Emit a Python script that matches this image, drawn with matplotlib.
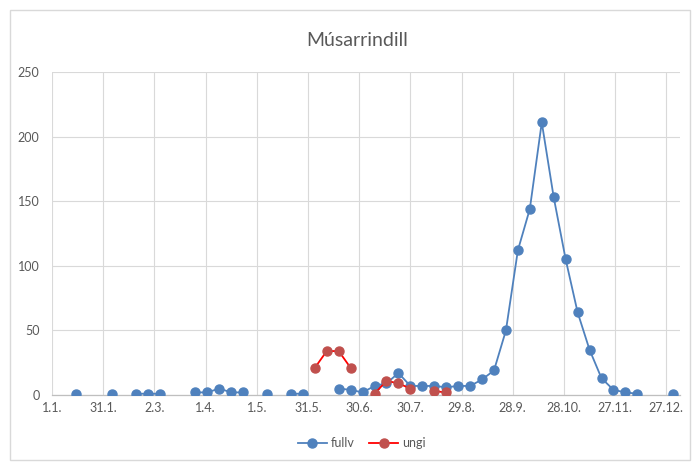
import numpy as np
import pandas as pd
import matplotlib
matplotlib.use("Agg")
import matplotlib.pyplot as plt
import matplotlib.dates as mdates
from matplotlib.patches import Rectangle

# weekly counts (missing weeks leave gaps in the line)
fullv_dates = ["15.1.", "5.2.", "19.2.", "26.2.", "5.3.", "26.3.", "2.4.", "9.4.", "16.4.", "23.4.",
               "7.5.", "21.5.", "28.5.", "18.6.", "25.6.", "2.7.", "9.7.", "16.7.", "23.7.", "30.7.",
               "6.8.", "13.8.", "20.8.", "27.8.", "3.9.", "10.9.", "17.9.", "24.9.", "1.10.", "8.10.",
               "15.10.", "22.10.", "29.10.", "5.11.", "12.11.", "19.11.", "26.11.", "3.12.", "10.12.", "31.12."]
fullv = [1, 1, 1, 1, 1, 2, 2, 5, 2, 2,
         1, 1, 1, 5, 4, 2, 7, 9, 17, 7,
         7, 7, 6, 7, 7, 12, 19, 50, 112, 144,
         211, 153, 105, 64, 35, 13, 4, 2, 1, 1]

ungi_dates = ["4.6.", "11.6.", "18.6.", "25.6.", "9.7.", "16.7.", "23.7.", "30.7.", "13.8.", "20.8."]
ungi = [21, 34, 34, 21, 1, 11, 9, 5, 3, 2]

tick_labels = ["1.1.", "31.1.", "2.3.", "1.4.", "1.5.", "31.5.", "30.6.", "30.7.",
               "29.8.", "28.9.", "28.10.", "27.11.", "27.12."]

YEAR = "2015"


def to_dates(lst):
    return pd.to_datetime([d + YEAR for d in lst], format="%d.%m.%Y")


weeks = pd.date_range("2015-01-15", "2015-12-31", freq="7D")
s_full = pd.Series(fullv, index=to_dates(fullv_dates), dtype=float).reindex(weeks)
s_ungi = pd.Series(ungi, index=to_dates(ungi_dates), dtype=float).reindex(weeks)

plt.rcParams["font.family"] = ["Lato", "DejaVu Sans"]
gray = "#595959"

fig = plt.figure(figsize=(6.97, 4.68), dpi=100)
W, H = 697, 468
ax = fig.add_axes([52 / W, 1 - 395 / H, (680 - 52) / W, (395 - 72) / H])

fig.patches.append(Rectangle((10 / W, 1 - 460 / H), 680 / W, 450 / H, transform=fig.transFigure,
                             fill=False, edgecolor="#D9D9D9", linewidth=1))

ax.plot(s_full.index, s_full.values, color="#4F81BD", linewidth=1.3,
        marker="o", markersize=6.5, markerfacecolor="#4F81BD", markeredgecolor="#4F81BD",
        label="fullv", zorder=3)
ax.plot(s_ungi.index, s_ungi.values, color="#FF0000", linewidth=1.3,
        marker="o", markersize=6.5, markerfacecolor="#C0504D", markeredgecolor="#C0504D",
        label="ungi", zorder=4)

ticks = to_dates(tick_labels)
ax.set_xticks(ticks)
ax.set_xticklabels(tick_labels)
ax.set_xlim(pd.Timestamp("2015-01-01"), pd.Timestamp("2016-01-04"))
ax.set_ylim(0, 250)
ax.set_yticks(np.arange(0, 251, 50))

ax.grid(True, color="#D9D9D9", linewidth=0.8)
ax.set_axisbelow(True)
for side in ["top", "right", "left"]:
    ax.spines[side].set_visible(False)
ax.spines["bottom"].set_color("#BFBFBF")
ax.spines["bottom"].set_linewidth(0.9)
ax.tick_params(axis="both", length=0, colors=gray, labelsize=9)
ax.tick_params(axis="y", pad=9)
ax.tick_params(axis="x", pad=5)

fig.text(0.512, 1 - 40 / H, "Músarrindill", ha="center", va="center", fontsize=14, color=gray)

leg = fig.legend(loc="center", bbox_to_anchor=(0.519, 1 - 443 / H), ncol=2, frameon=False,
                 fontsize=9, handlelength=2.3, handletextpad=0.3, columnspacing=1.2)
for t in leg.get_texts():
    t.set_color(gray)

fig.savefig("out.png", dpi=100)
